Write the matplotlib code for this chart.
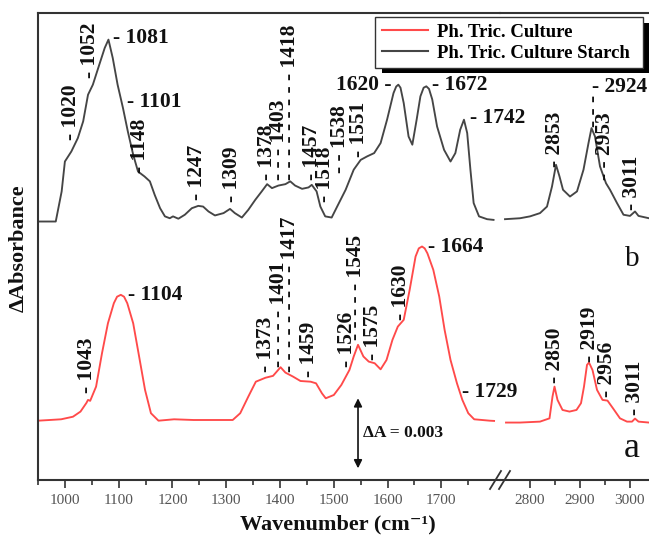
import matplotlib
matplotlib.use("Agg")
import matplotlib.pyplot as plt
from matplotlib.lines import Line2D
from matplotlib.patches import Rectangle
from matplotlib.ticker import FixedLocator

plt.rcParams['font.family'] = ['Liberation Serif', 'DejaVu Serif']

# ---- spectra (absorbance in units of 1e-3, vertically offset as plotted) ----
series_names = ["Ph. Tric. Culture", "Ph. Tric. Culture Starch"]

# b: Ph. Tric. Culture Starch
b_low_wn = [950, 983, 994, 1000, 1012, 1024, 1034, 1043, 1052, 1064, 1074, 1081,
            1089, 1098, 1108, 1117, 1127, 1136, 1148, 1158, 1167, 1177, 1186, 1195,
            1201, 1211, 1223, 1236, 1248, 1257, 1267, 1279, 1295, 1307, 1316, 1329,
            1341, 1354, 1366, 1376, 1385, 1397, 1410, 1419, 1428, 1441, 1453, 1459,
            1468, 1475, 1484, 1496, 1506, 1522, 1537, 1550, 1562, 1575, 1587, 1599,
            1611, 1616, 1620, 1624, 1630, 1639, 1646, 1654, 1661, 1667, 1672, 1677,
            1683, 1692, 1705, 1717, 1726, 1735, 1742, 1748, 1754, 1760, 1770, 1785, 1797]
b_low_abs = [11.07, 11.07, 12.36, 13.64, 14.07, 14.64, 15.36, 16.50, 16.93, 17.79, 18.50, 18.86,
             18.07, 16.93, 15.93, 14.93, 13.93, 13.21, 13.00, 12.79, 12.21, 11.64, 11.29, 11.21,
             11.29, 11.19, 11.36, 11.64, 11.74, 11.71, 11.50, 11.33, 11.43, 11.61, 11.43, 11.24,
             11.57, 12.00, 12.36, 12.67, 12.50, 12.61, 12.67, 12.79, 12.61, 12.47, 12.53, 12.64,
             12.36, 11.71, 11.29, 11.24, 11.70, 12.43, 13.29, 13.71, 13.86, 14.00, 14.43, 15.43,
             16.57, 16.85, 16.93, 16.80, 16.14, 14.71, 14.36, 15.43, 16.43, 16.80, 16.86, 16.75,
             16.30, 15.14, 14.14, 13.64, 14.00, 15.00, 15.43, 14.86, 13.29, 11.86, 11.29, 11.17, 11.14]
b_high_wn = [2751, 2781, 2801, 2821, 2835, 2845, 2853, 2860, 2867, 2881, 2895, 2908,
             2918, 2924, 2931, 2941, 2953, 2961, 2975, 2988, 3001, 3011, 3018, 3039]
b_high_abs = [11.17, 11.21, 11.29, 11.43, 11.71, 12.57, 13.50, 13.00, 12.43, 12.14, 12.36, 13.29,
              14.43, 15.07, 14.71, 13.43, 12.71, 12.43, 11.86, 11.36, 11.31, 11.50, 11.31, 11.21]

# a: Ph. Tric. Culture
a_low_wn = [950, 972, 993, 1015, 1029, 1040, 1043, 1047, 1058, 1069, 1080, 1091, 1097, 1104,
            1110, 1116, 1127, 1138, 1149, 1160, 1174, 1203, 1239, 1276, 1312, 1326, 1341,
            1355, 1373, 1387, 1401, 1410, 1424, 1438, 1457, 1467, 1478, 1485, 1500,
            1514, 1529, 1537, 1545, 1555, 1565, 1576, 1587, 1598, 1609, 1619, 1630,
            1641, 1652, 1658, 1664, 1669, 1674, 1685, 1696, 1706, 1717, 1729, 1739, 1750, 1761,
            1790, 1798]
a_low_abs = [2.54, 2.57, 2.60, 2.71, 2.93, 3.30, 3.43, 3.39, 4.00, 5.43, 6.71, 7.57, 7.85, 7.93,
             7.85, 7.57, 6.71, 5.29, 3.86, 2.86, 2.54, 2.60, 2.57, 2.57, 2.57, 2.86, 3.57,
             4.21, 4.38, 4.46, 4.83, 4.60, 4.43, 4.24, 4.21, 4.14, 3.71, 3.50, 3.64,
             4.07, 4.71, 5.29, 5.79, 5.29, 5.07, 5.00, 4.74, 5.14, 6.00, 6.57, 6.86,
             8.14, 9.57, 9.92, 10.00, 9.92, 9.71, 9.00, 7.86, 6.43, 5.14, 4.14, 3.43, 2.86, 2.60,
             2.54, 2.53]
a_high_wn = [2753, 2781, 2821, 2840, 2846, 2850, 2856, 2866, 2880, 2894, 2903, 2909,
             2915, 2919, 2926, 2935, 2946, 2956, 2967, 2981, 2995, 3005, 3011, 3018, 3039]
a_high_abs = [2.46, 2.46, 2.50, 2.64, 3.57, 4.00, 3.43, 3.00, 2.93, 3.00, 3.29, 4.00,
              4.93, 5.03, 4.71, 3.86, 3.43, 3.40, 3.07, 2.64, 2.50, 2.50, 2.63, 2.50, 2.46]

# ---- peak annotations: (text, x, y, style) ; 'v' rotated, 'h' right of point, 'hr' left of point ----
labels_b_low = [
    ("- 1020", 1011, 14.57, 'v'), ("- 1052", 1046, 17.23, 'v'),
    ("- 1081", 1089, 18.94, 'h'), ("- 1101", 1115, 16.20, 'h'),
    ("- 1148", 1139, 13.16, 'v'), ("- 1247", 1246, 12.00, 'v'),
    ("- 1309", 1311, 11.91, 'v'), ("- 1378", 1375, 12.86, 'v'),
    ("- - - 1403", 1398, 12.86, 'v'), ("- - - - - - - - - 1418", 1418, 12.86, 'v'),
    ("- 1457", 1460, 12.86, 'v'), ("- 1518", 1484, 11.91, 'v'),
    ("- - 1538", 1512, 13.16, 'v'), ("- 1551", 1547, 13.84, 'v'),
    ("1620 -", 1608, 16.93, 'hr'), ("- 1672", 1683, 16.93, 'h'),
    ("- 1742", 1753, 15.51, 'h'),
]
labels_b_high = [
    ("- 2853", 2851, 13.41, 'v'), ("- 2924", 2925, 16.84, 'h'),
    ("- - -", 2929, 15.10, 'v'), ("- - 2953", 2951, 12.86, 'v'),
    ("- 3011", 3005, 11.57, 'v'),
]
labels_a_low = [
    ("- 1043", 1042, 3.73, 'v'), ("- 1104", 1117, 7.93, 'h'),
    ("- 1373", 1374, 4.63, 'v'), ("- - - - - 1401", 1399, 4.84, 'v'),
    ("- - - - - - - - - 1417", 1418, 4.63, 'v'), ("- 1459", 1454, 4.41, 'v'),
    ("- 1526", 1525, 4.84, 'v'), ("- - - - - 1545", 1541, 6.00, 'v'),
    ("- 1575", 1573, 5.14, 'v'), ("- 1630", 1625, 6.86, 'v'),
    ("- 1664", 1675, 9.99, 'h'), ("- 1729", 1739, 3.77, 'h'),
]
labels_a_high = [
    ("- 2850", 2851, 4.16, 'v'), ("- 2919", 2921, 5.06, 'v'),
    ("- 2956", 2955, 3.56, 'v'), ("- 3011", 3011, 2.79, 'v'),
]

scale_bar = 3.0          # 0.003 absorbance
scale_bar_text = "\u0394A = 0.003"

RED = '#ff4a4a'
DARK = '#454545'
AXC = '#333333'

W, H = 649, 535
fig = plt.figure(figsize=(W / 100, H / 100), dpi=100)
x_left, x_break, x_right = 38, 500, 649
y_bottom, y_top = 480, 13


def fig_rect(l, r):
    return [l / W, 1 - y_bottom / H, (r - l) / W, (y_bottom - y_top) / H]


ax1 = fig.add_axes(fig_rect(x_left, x_break))
ax2 = fig.add_axes(fig_rect(x_break, x_right))
ax1.set_xlim(950, 1809)
ax2.set_xlim(2741, 3039)
for ax in (ax1, ax2):
    ax.set_ylim(0, 20)
    ax.set_yticks([])
    ax.patch.set_alpha(0)
    for s in ax.spines.values():
        s.set_color(AXC)
        s.set_linewidth(1.5)
    ax.spines['right'].set_visible(False)
    ax.tick_params(axis='x', which='major', direction='out', length=6, width=1.2,
                   color=AXC, labelsize=11, labelcolor='#555555', pad=4)
    ax.tick_params(axis='x', which='minor', direction='out', length=3.5, width=1.2, color=AXC)
ax2.spines['left'].set_visible(False)

ax1.xaxis.set_major_locator(FixedLocator([1000, 1100, 1200, 1300, 1400, 1500, 1600, 1700]))
ax1.xaxis.set_minor_locator(FixedLocator([950, 1050, 1150, 1250, 1350, 1450, 1550, 1650, 1750]))
ax2.xaxis.set_major_locator(FixedLocator([2800, 2900, 3000]))
ax2.xaxis.set_minor_locator(FixedLocator([2850, 2950]))

lw = 1.35
ax1.plot(b_low_wn, b_low_abs, color=DARK, lw=lw)
ax2.plot(b_high_wn, b_high_abs, color=DARK, lw=lw)
ax1.plot(a_low_wn, a_low_abs, color=RED, lw=lw)
ax2.plot(a_high_wn, a_high_abs, color=RED, lw=lw)

label_font = dict(fontsize=15.5, fontweight='bold', color='#111111')


def put_labels(ax, items):
    for text, x, y, style in items:
        if style == 'v':
            ax.text(x, y, text, rotation=90, ha='center', va='bottom', **label_font)
        elif style == 'h':
            ax.text(x, y, text, ha='left', va='center', **label_font)
        else:
            ax.text(x, y, text, ha='right', va='center', **label_font)


put_labels(ax1, labels_b_low)
put_labels(ax2, labels_b_high)
put_labels(ax1, labels_a_low)
put_labels(ax2, labels_a_high)

# scale bar
bar_x = 1545
ax1.annotate('', xy=(bar_x, 0.5), xytext=(bar_x, 0.5 + scale_bar),
             arrowprops=dict(arrowstyle='<|-|>', color='#111111', lw=1.2,
                             mutation_scale=12, shrinkA=0, shrinkB=0))
ax1.text(bar_x + 10, 0.5 + scale_bar / 2, scale_bar_text, ha='left', va='center',
         fontsize=12.5, fontweight='bold', color='#111111')

# trace letters
ax2.text(3005, 9.15, 'b', ha='center', va='baseline', fontsize=21, color='#111111')
ax2.text(3005, 1.0, 'a', ha='center', va='baseline', fontsize=26, color='#111111')

# axis titles
fig.text(338 / W, 1 - 524 / H, 'Wavenumber (cm\u207b\u00b9)', ha='center', va='center',
         fontsize=16, fontweight='bold', color='#111111')
fig.text(19 / W, 1 - 248 / H, '\u0394Absorbance', ha='center', va='center', rotation=90,
         fontsize=16, fontweight='bold', color='#111111')

# axis break marks
for dx in (0, 9):
    fig.add_artist(Line2D([(490 + dx) / W, (501 + dx) / W], [1 - 489 / H, 1 - 471 / H],
                          color=AXC, lw=1.3, transform=fig.transFigure))

# legend with hard shadow
handles = [Line2D([], [], color=RED, lw=1.5), Line2D([], [], color=DARK, lw=1.5)]
leg = fig.legend(handles, series_names, loc='upper left', mode='expand',
                 bbox_to_anchor=(375 / W, 1 - 67 / H, 268 / W, 50 / H), borderaxespad=0,
                 prop=dict(weight='bold', size=13.5), frameon=True, fancybox=False,
                 handlelength=2.5, handletextpad=0.45, labelspacing=0.2, borderpad=0.35)
leg.get_frame().set_edgecolor(AXC)
leg.get_frame().set_linewidth(1.0)
leg.get_frame().set_alpha(1)
leg.set_zorder(6)
fig.add_artist(Rectangle((382 / W, 1 - 73 / H), 268 / W, 50 / H, transform=fig.transFigure,
                         facecolor='black', edgecolor='none', zorder=5))

fig.savefig('out.png', dpi=100)
